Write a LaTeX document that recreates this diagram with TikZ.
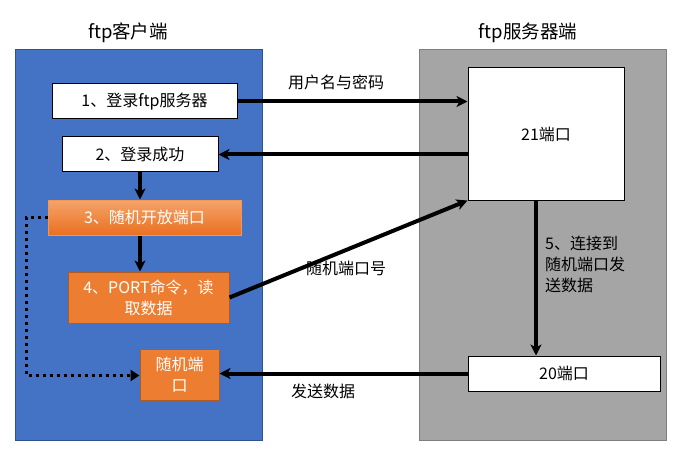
\documentclass[tikz,border=0pt]{standalone}
\usepackage{fontspec}
\setmainfont{Noto Sans CJK SC}
\usetikzlibrary{arrows.meta,calc}
\definecolor{cblue}{HTML}{4472C4}
\definecolor{cblueb}{HTML}{2F528F}
\definecolor{cgray}{HTML}{A5A5A5}
\definecolor{cgrayb}{HTML}{7F7F7F}
\definecolor{corange}{HTML}{ED7D31}
\definecolor{corangeb}{HTML}{AE5A21}
\definecolor{corangetop}{HTML}{F5A36A}
\definecolor{corangebot}{HTML}{EA7020}
\tikzset{
  txt/.style={font=\fontsize{16}{21}\selectfont, inner sep=0pt},
  title/.style={font=\fontsize{18.5}{22}\selectfont, inner sep=0pt},
  wbox/.style={draw=black, line width=1pt, fill=white, txt, align=center},
  obox/.style={draw=corangeb, line width=1pt, fill=corange, txt, text=white, align=center},
  gbox/.style={draw=corange!80!white, line width=1pt, top color=corangetop, bottom color=corangebot, txt, text=white, align=center},
  conn/.style={line width=4pt, -{Stealth[length=11pt,width=11pt,inset=3pt]}},
  dotconn/.style={line width=3pt, dash pattern=on 3pt off 4pt, -{Triangle[length=9pt,width=11pt]}},
}
\begin{document}
\begin{tikzpicture}[x=1pt,y=-1pt]
\useasboundingbox (0,0) rectangle (698,465);
% containers
\node[draw=cblueb, line width=1pt, fill=cblue, minimum width=247pt, minimum height=390pt, inner sep=0pt] (client) at (138.5,245) {};
\node[draw=cgrayb, line width=1pt, fill=cgray, minimum width=247pt, minimum height=390pt, inner sep=0pt] (server) at (542.5,245) {};
\node[title] (tc) at (128,33) {ftp客户端};
\node[title] (ts) at (528,33) {ftp服务器端};
% client boxes
\node[wbox, minimum width=185pt, minimum height=35pt] (b1) at (144.5,101.5) {1、登录ftp服务器};
\node[wbox, minimum width=156pt, minimum height=35pt] (b2) at (140,154.5) {2、登录成功};
\node[gbox, minimum width=193pt, minimum height=35pt] (b3) at (144.5,217.5) {3、随机开放端口};
\node[obox, minimum width=161pt, minimum height=51pt] (b4) at (148.5,297.5) {4、PORT命令，读\\取数据};
\node[obox, minimum width=79pt, minimum height=51pt] (b5) at (179.5,374.5) {随机端\\口};
% server boxes
\node[wbox, minimum width=156pt, minimum height=132pt] (b21) at (546,134) {21端口};
\node[wbox, minimum width=192pt, minimum height=35pt] (b20) at (564,373.5) {20端口};
% connectors
\draw[conn] (b1.east) -- (b1.east -| b21.west);
\draw[conn] (b2.east -| b21.west) -- (b2.east);
\draw[conn] (b2.south) -- (b2.south |- b3.north);
\draw[conn] (b2.south |- b3.south) -- (b2.south |- b4.north);
\draw[conn] (b4.east) -- (b21.south west);
\draw[conn] ([xshift=-10pt]b21.south) -- ([xshift=-10pt]b21.south |- b20.north);
\draw[conn] (b20.west) -- (b20.west -| b5.east);
\coordinate (d1) at (26,217.5);
\coordinate (d2) at (26,375.5);
\draw[dotconn] (b3.west) -- (d1) -- (d2) -- (d2 -| b5.west);
% labels
\node[txt] (l1) at (336,82) {用户名与密码};
\node[txt] (l2) at (346,268) {随机端口号};
\node[txt] (l3) at (323,391) {发送数据};
\node[txt, align=left, anchor=north west] (l4) at (545,236) {5、连接到\\随机端口发\\送数据};
\end{tikzpicture}
\end{document}
